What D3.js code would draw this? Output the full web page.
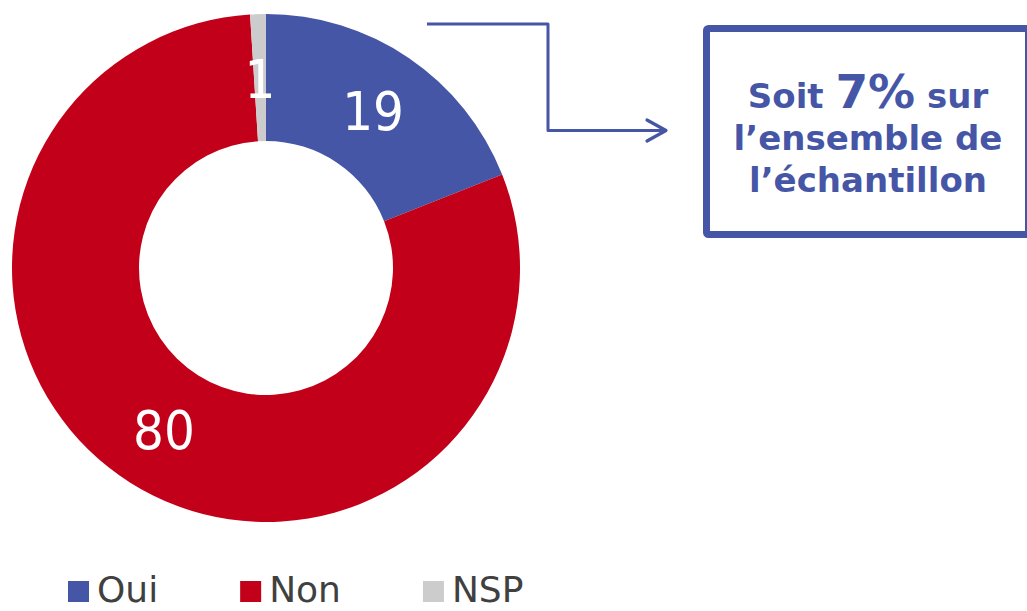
<!DOCTYPE html>
<html>
<head>
<meta charset="utf-8">
<script src="https://cdn.jsdelivr.net/npm/d3@7"></script>
<style>
  html, body { margin: 0; padding: 0; background: #ffffff; }
  svg { display: block; }
</style>
</head>
<body>
<svg id="chart" width="1027" height="611"></svg>
<script>
// Réponses (en %)
const categories = ["Oui", "Non", "NSP"];
const values = [19, 80, 1];
const colors = ["#4656A6", "#C20019", "#CCCCCC"];

// Encadré de commentaire
const calloutLines = [
  [{ t: "Soit ", big: false }, { t: "7%", big: true }, { t: " sur", big: false }],
  [{ t: "l\u2019ensemble de", big: false }],
  [{ t: "l\u2019\u00e9chantillon", big: false }]
];

const svg = d3.select("#chart");
const accent = "#4656A6";

// ---- Anneau ----
const cx = 266, cy = 268, outerR = 254, innerR = 127;

const pie = d3.pie().sort(null).value(d => d.value);
const arcs = pie(categories.map((c, i) => ({ cat: c, value: values[i] })));
const arc = d3.arc().innerRadius(innerR).outerRadius(outerR);
const color = d3.scaleOrdinal().domain(categories).range(colors);

const g = svg.append("g").attr("transform", `translate(${cx},${cy})`);

g.selectAll("path.slice")
  .data(arcs)
  .join("path")
  .attr("class", "slice")
  .attr("d", arc)
  .attr("fill", d => color(d.data.cat));

g.selectAll("text.val")
  .data(arcs)
  .join("text")
  .attr("class", "val")
  .attr("transform", d => `translate(${arc.centroid(d)})`)
  .attr("text-anchor", "middle")
  .attr("dy", "0.37em")
  .attr("font-family", "'DejaVu Sans Condensed', 'DejaVu Sans', sans-serif")
  .attr("font-size", 54)
  .attr("fill", "#ffffff")
  .text(d => d.data.value);

// ---- Flèche de renvoi ----
const connector = [[427, 24], [548, 24], [548, 130.5], [665, 130.5]];
svg.append("path")
  .attr("d", d3.line()(connector))
  .attr("fill", "none")
  .attr("stroke", accent)
  .attr("stroke-width", 3)
  .attr("stroke-linejoin", "round");
svg.append("path")
  .attr("d", d3.line()([[647, 120], [666, 130.5], [647, 141]]))
  .attr("fill", "none")
  .attr("stroke", accent)
  .attr("stroke-width", 3.2)
  .attr("stroke-linecap", "round")
  .attr("stroke-linejoin", "round");

// ---- Encadré ----
svg.append("rect")
  .attr("x", 706.5).attr("y", 28.5)
  .attr("width", 322).attr("height", 206)
  .attr("rx", 2)
  .attr("fill", "#ffffff")
  .attr("stroke", accent)
  .attr("stroke-width", 7);

const boxText = svg.append("text")
  .attr("text-anchor", "middle")
  .attr("font-family", "'DejaVu Sans', Verdana, sans-serif")
  .attr("font-weight", "bold")
  .attr("fill", accent);

const baselines = [108, 150, 192];
calloutLines.forEach((line, li) => {
  line.forEach((seg, si) => {
    const ts = boxText.append("tspan")
      .attr("font-size", seg.big ? 47 : 34)
      .text(seg.t);
    if (si === 0) ts.attr("x", 868).attr("y", baselines[li]);
  });
});

// ---- Légende ----
const legend = svg.append("g").attr("transform", "translate(68,602)");
let lx = 0;
categories.forEach((c, i) => {
  const item = legend.append("g").attr("transform", `translate(${lx},0)`);
  item.append("rect")
    .attr("x", 0).attr("y", -21)
    .attr("width", 21).attr("height", 21)
    .attr("fill", color(c));
  const t = item.append("text")
    .attr("x", 29).attr("y", 0)
    .attr("font-family", "'DejaVu Sans', Verdana, sans-serif")
    .attr("font-size", 36)
    .attr("fill", "#404040")
    .text(c);
  lx += 29 + t.node().getComputedTextLength() + 82;
});
</script>
</body>
</html>
